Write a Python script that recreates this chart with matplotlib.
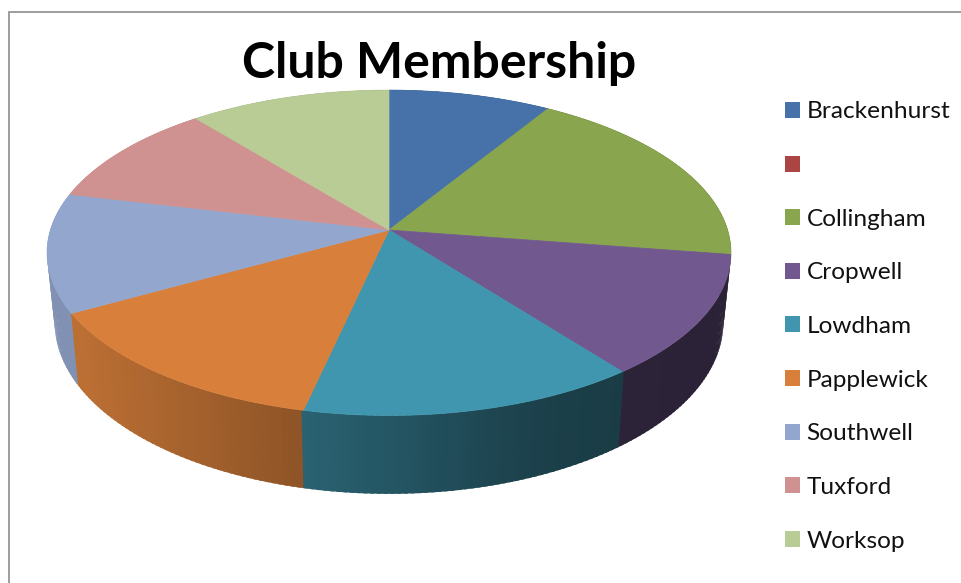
import numpy as np
import matplotlib
matplotlib.use("Agg")
import matplotlib.pyplot as plt
from matplotlib.patches import Patch

categories = ["Brackenhurst", " ", "Collingham", "Cropwell", "Lowdham",
              "Papplewick", "Southwell", "Tuxford", "Worksop"]
shares = [8.8, 0.0, 18.6, 12.1, 14.0, 13.4, 11.8, 10.4, 10.9]
colors = ["#4772A9", "#AB4543", "#89A54E", "#71588F", "#4096AE",
          "#D8803B", "#93A7CE", "#D09291", "#B9CC95"]
title = "Club Membership"

W, H = 961, 583
fig = plt.figure(figsize=(W / 100, H / 100), dpi=100)
ax = fig.add_axes([0, 0, 1, 1])
ax.set_xlim(0, W)
ax.set_ylim(H, 0)
ax.axis("off")

K = 0.14
TOP = dict(cx=389.0, cy=230.0, rx=338.6, ry=159.5)
LOW = dict(cx=389.0, cy=298.5, rx=331.0, ry=168.0)


def project(theta, rim):
    """Clockwise angle from 12 o'clock -> perspective point on a rim."""
    X, Y = np.sin(theta), np.cos(theta)
    d = 1 + K * Y
    return rim["cx"] + rim["rx"] * X / d, rim["cy"] - rim["ry"] * Y / d


def side_shade(x):
    return np.interp(x, [50, 77, 300, 500, 560, 620, 730],
                     [.87, .87, .66, .46, .42, .40, .38])


vals = np.asarray(shares, float)
edges = np.concatenate([[0], np.cumsum(vals)]) / vals.sum() * 2 * np.pi

# side wall: back-to-front strips, each slice shaded by its screen position
strips = []
for i, col in enumerate(colors):
    if vals[i] == 0:
        continue
    n = max(int((edges[i + 1] - edges[i]) / np.radians(1.0)), 1)
    t = np.linspace(edges[i], edges[i + 1], n + 1)
    for a, b in zip(t[:-1], t[1:]):
        strips.append((abs((a + b) / 2 - np.pi), a, b, col))
strips.sort(key=lambda s: -s[0])
pad = np.radians(0.3)
for _, a, b, col in strips:
    tt = np.array([a - pad, b + pad])
    x1, y1 = project(tt, TOP)
    x2, y2 = project(tt, LOW)
    rgb = np.array(matplotlib.colors.to_rgb(col)) * side_shade(x1.mean())
    ax.fill([x1[0], x1[1], x2[1], x2[0]], [y1[0], y1[1], y2[1], y2[0]],
            color=rgb, lw=0)

# top face
for i, col in enumerate(colors):
    if vals[i] == 0:
        continue
    t = np.linspace(edges[i], edges[i + 1], 90)
    x, y = project(t, TOP)
    ax.fill(np.r_[TOP["cx"], x], np.r_[TOP["cy"], y], color=col, lw=0.5)

# chart frame (open at right and bottom)
ax.plot([8.5, 8.5, W], [H, 12, 12], color="#8C8C8C", lw=1.2, solid_joinstyle="miter")

ax.text(439, 63, title, family="Lato", weight="bold", fontsize=36,
        ha="center", va="center", color="black")

handles = [Patch(facecolor=c, edgecolor="none") for c in colors]
fs = 17.6
ax.legend(handles, categories, loc="upper left", bbox_to_anchor=(784.5 / W, 1 - 101.5 / H),
          frameon=False, prop=dict(family="Lato", size=fs), borderaxespad=0, borderpad=0,
          handlelength=15.5 / (fs * 100 / 72), handleheight=15.5 / (fs * 100 / 72),
          handletextpad=0.27, labelspacing=1.335, labelcolor="#111111")

fig.savefig("out.png", dpi=100)
